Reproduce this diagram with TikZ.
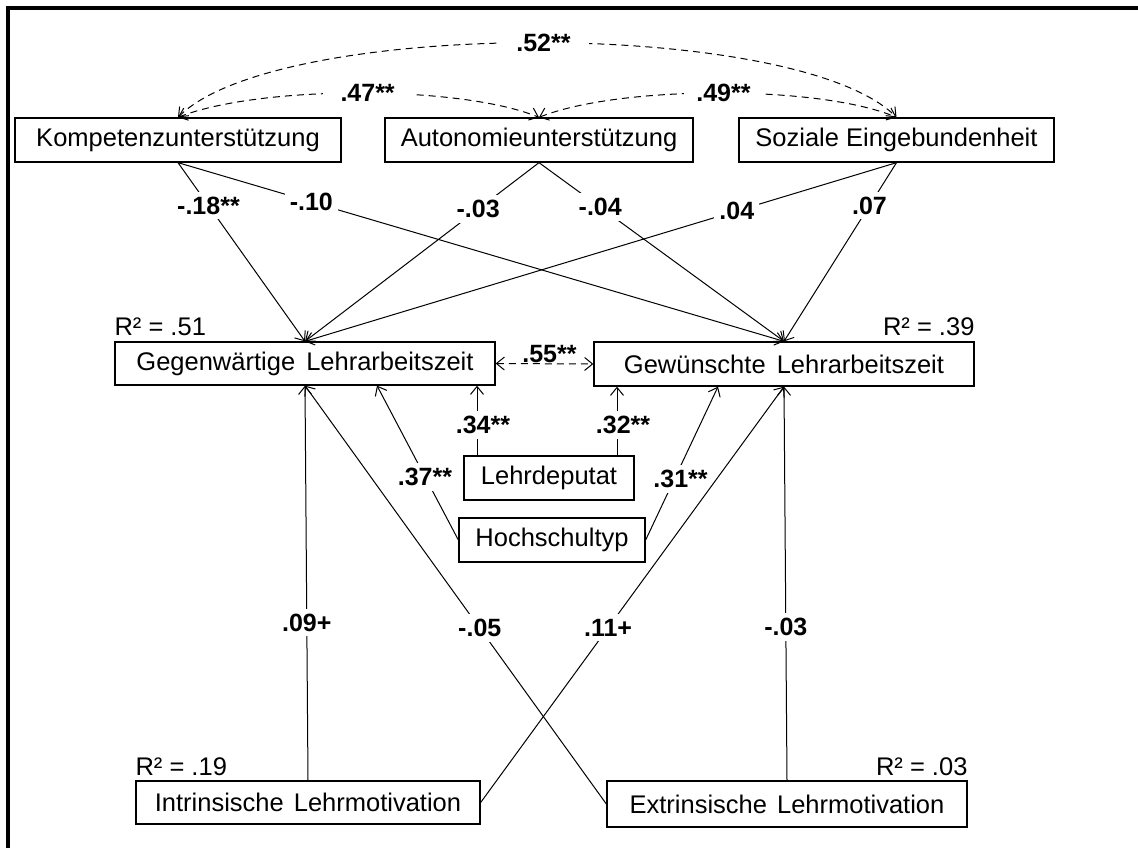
\documentclass[tikz,border=0pt]{standalone}
\usepackage{fontspec}
\setmainfont{Liberation Sans}
\usetikzlibrary{arrows.meta}
\begin{document}
\begin{tikzpicture}[x=1pt,y=-1pt,
  box/.style={draw, line width=1.3pt, inner sep=0pt, font=\fontsize{25.5}{30}\selectfont},
  lab/.style={fill=white, inner sep=5pt, font=\bfseries\fontsize{25}{29}\selectfont},
  clab/.style={fill=white, inner ysep=3pt, inner xsep=18pt, font=\bfseries\fontsize{25}{29}\selectfont},
  rsq/.style={inner sep=0pt, font=\fontsize{25.5}{30}\selectfont},
  arr/.style={line width=1pt, -{Straight Barb[length=8pt,width=13pt]}},
  corr/.style={line width=1pt, dash pattern=on 7pt off 5pt,
    {Straight Barb[length=8pt,width=13pt]}-{Straight Barb[length=8pt,width=13pt]}}
]
\useasboundingbox (0,0) rectangle (1138,848);
\fill[white] (0,0) rectangle (1138,848);
\draw[line width=4pt] (8,848) -- (8,8) -- (1138,8);

% boxes
\node[box, minimum width=326pt, minimum height=44pt] (K) at (178,140) {Kompetenzunterstützung};
\node[box, minimum width=308pt, minimum height=44pt] (A) at (539,140) {Autonomieunterstützung};
\node[box, minimum width=315pt, minimum height=44pt] (S) at (896.5,140) {Soziale Eingebundenheit};
\node[box, minimum width=380pt, minimum height=43pt] (G) at (305,363.5) {Gegenwärtige\hspace{4pt} Lehrarbeitszeit};
\node[box, minimum width=380pt, minimum height=44pt] (W) at (784,364) {Gewünschte\hspace{4pt} Lehrarbeitszeit};
\node[box, minimum width=170pt, minimum height=44pt] (L) at (549,478) {Lehrdeputat};
\node[box, minimum width=186pt, minimum height=44pt] (H) at (552,540) {Hochschultyp};
\node[box, minimum width=344pt, minimum height=43pt] (I) at (308,802.5) {Intrinsische\hspace{3pt} Lehrmotivation};
\node[box, minimum width=360pt, minimum height=46pt] (E) at (787,804) {Extrinsische\hspace{3pt} Lehrmotivation};

% R squared
\node[rsq, anchor=base west] (r51) at ([yshift=6pt]G.north west) {R² = .51};
\node[rsq, anchor=base east] (r39) at ([yshift=6pt]W.north east) {R² = .39};
\node[rsq, anchor=base west] (r19) at ([yshift=5pt]I.north west) {R² = .19};
\node[rsq, anchor=base east] (r03) at ([yshift=5pt]E.north east) {R² = .03};

% correlations
\draw[corr] (K.north) .. controls (277,18) and (798,18) .. node[clab, pos=.5, xshift=6pt] {.52**} (S.north);
\draw[corr] (K.north) .. controls (260,85) and (460,85) .. node[clab, pos=.5, xshift=8pt] {.47**} (A.north);
\draw[corr] (A.north) .. controls (620,85) and (820,85) .. node[clab, pos=.5, xshift=4pt, inner xsep=12pt] {.49**} (S.north);
\draw[corr] (G.east) -- node[above, inner sep=0.5pt, xshift=5pt, font=\bfseries\fontsize{25}{29}\selectfont] {.55**} (W.west);

% upper paths
\draw[arr] (K.south) -- node[lab, pos=.24] {-.18**} (G.north);
\draw[arr] (K.south) -- node[lab, pos=.22] {-.10} (W.north);
\draw[arr] (A.south) -- node[lab, pos=.26] {-.03} (G.north);
\draw[arr] (A.south) -- node[lab, pos=.25] {-.04} (W.north);
\draw[arr] (S.south) -- node[lab, pos=.27] {.04} (G.north);
\draw[arr] (S.south) -- node[lab, pos=.24] {.07} (W.north);

% control variables
\draw[arr] ([xshift=-72pt]L.north) -- node[lab, pos=.44, xshift=6pt] {.34**} ([xshift=172pt]G.south);
\draw[arr] ([xshift=68pt]L.north) -- node[lab, pos=.44, xshift=6pt] {.32**} ([xshift=-167pt]W.south);
\draw[arr] (H.west) -- node[lab, pos=.41] {.37**} ([xshift=72pt]G.south);
\draw[arr] (H.east) -- node[lab, pos=.40, xshift=6pt] {.31**} ([xshift=-66pt]W.south);

% lower paths
\draw[arr] (I.north) -- node[lab, pos=.40] {.09+} (G.south);
\draw[arr] (E.west) -- node[lab, pos=.42] {-.05} (G.south);
\draw[arr] (I.east) -- node[lab, pos=.42] {.11+} (W.south);
\draw[arr] (E.north) -- node[lab, pos=.39] {-.03} (W.south);
\end{tikzpicture}
\end{document}
